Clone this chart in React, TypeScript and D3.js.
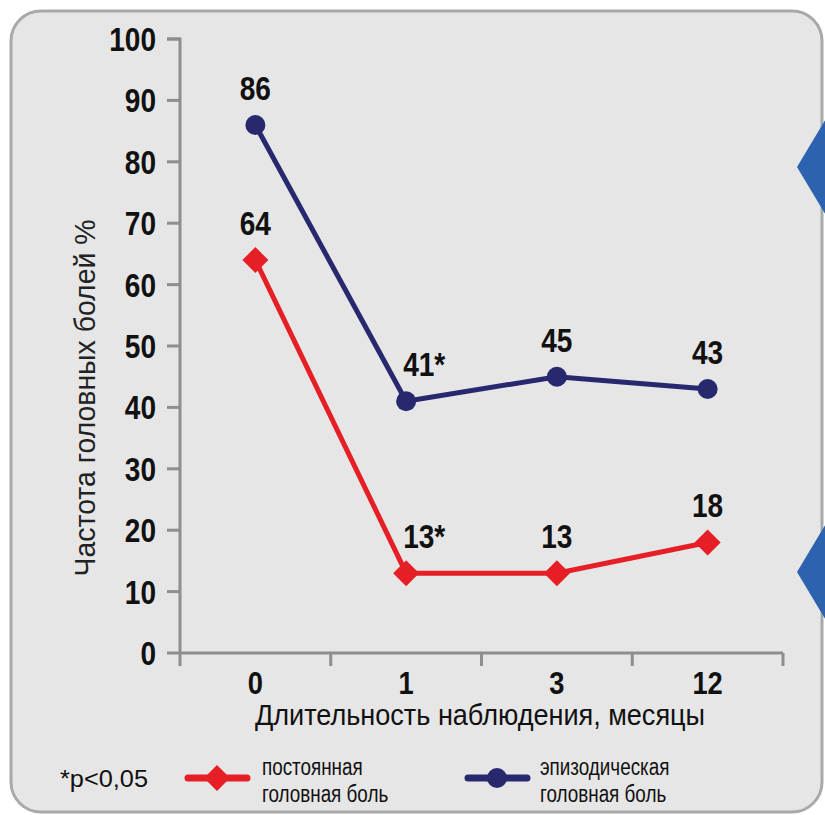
import React from "react";
import * as d3 from "d3";

const categories = ["0", "1", "3", "12"];
const episodic = [86, 41, 45, 43];
const constant = [64, 13, 13, 18];
const significant = [false, true, false, false];
const yTicks = [0, 10, 20, 30, 40, 50, 60, 70, 80, 90, 100];

const xTitle = "Длительность наблюдения, месяцы";
const yTitle = "Частота головных болей %";
const note = "*p<0,05";
const legendConstant = ["постоянная", "головная боль"];
const legendEpisodic = ["эпизодическая", "головная боль"];

const FONT = "'Liberation Sans', Arial, sans-serif";
const RED = "#e61f27";
const BLUE = "#27286e";
const AXIS = "#8e8e8e";

type TProps = {
  x: number;
  y: number;
  sx?: number;
  anchor?: "start" | "middle" | "end";
  size: number;
  bold?: boolean;
  fill?: string;
  children: React.ReactNode;
};

function T({ x, y, sx = 0.9, anchor = "start", size, bold, fill = "#111", children }: TProps) {
  return (
    <text
      transform={`translate(${x},${y}) scale(${sx},1)`}
      textAnchor={anchor}
      fontFamily={FONT}
      fontWeight={bold ? "bold" : "normal"}
      fontSize={size}
      fill={fill}
    >
      {children}
    </text>
  );
}

export default function App() {
  const W = 825;
  const H = 815;
  const x = d3.scaleBand<string>().domain(categories).range([180, 783]);
  const y = d3.scaleLinear().domain([0, 100]).range([653, 39]);
  const cx = (c: string) => (x(c) as number) + x.bandwidth() / 2;

  const line = d3
    .line<number>()
    .x((_, i) => cx(categories[i]))
    .y((d) => y(d));

  const diamond = (px: number, py: number, r: number) =>
    `M${px},${py - r} L${px + r},${py} L${px},${py + r} L${px - r},${py} Z`;

  const boundaries = [...categories.map((c) => x(c) as number), 783];

  const label = (v: number, i: number, key: string) => {
    const star = significant[i];
    const px = cx(categories[i]);
    return (
      <T key={key} x={star ? px - 3 : px} y={y(v) - 25} anchor={star ? "start" : "middle"} size={33} bold sx={0.85}>
        {v}
        {star ? "*" : ""}
      </T>
    );
  };

  return (
    <svg
      width={W}
      height={H}
      viewBox={`0 0 ${W} ${H}`}
      style={{ position: "absolute", left: 0, top: 0, background: "#fff" }}
    >
      <rect x={11} y={11} width={811} height={801} rx={30} ry={30} fill="#e6e6e6" stroke="#a9a9a9" strokeWidth={3} />

      {/* decorative blue diamonds at right edge */}
      <path d="M797,167 L857,67 L917,167 L857,267 Z" fill="#2d62ae" />
      <path d="M797,572 L857,472 L917,572 L857,672 Z" fill="#2d62ae" />

      {/* axes */}
      <g stroke={AXIS} strokeWidth={3} fill="none">
        <path d={`M167,${y(100)} H180 V${y(0)} H783`} />
        {yTicks.map((t) => (
          <line key={t} x1={167} x2={180} y1={y(t)} y2={y(t)} />
        ))}
        {boundaries.map((b, i) => (
          <line key={i} x1={b} x2={b} y1={y(0)} y2={y(0) + 13} />
        ))}
      </g>

      {yTicks.map((t) => (
        <T key={t} x={156} y={y(t) + 12} anchor="end" size={33} bold sx={0.85}>
          {t}
        </T>
      ))}

      {categories.map((c) => (
        <T key={c} x={cx(c)} y={694} anchor="middle" size={31} bold sx={0.88}>
          {c}
        </T>
      ))}

      <text
        x={480}
        y={725}
        textAnchor="middle"
        fontFamily={FONT}
        fontSize={30}
        fill="#111"
        textLength={450}
        lengthAdjust="spacingAndGlyphs"
      >
        {xTitle}
      </text>

      <text
        transform={`translate(95,398) rotate(-90)`}
        textAnchor="middle"
        fontFamily={FONT}
        fontSize={30}
        fill="#222"
        textLength={357}
        lengthAdjust="spacingAndGlyphs"
      >
        {yTitle}
      </text>

      {/* series lines */}
      <path d={line(episodic) as string} fill="none" stroke={BLUE} strokeWidth={5} />
      <path d={line(constant) as string} fill="none" stroke={RED} strokeWidth={5} />

      {episodic.map((v, i) => (
        <circle key={"e" + i} cx={cx(categories[i])} cy={y(v)} r={10} fill={BLUE} />
      ))}
      {constant.map((v, i) => (
        <path key={"c" + i} d={diamond(cx(categories[i]), y(v), 13)} fill={RED} />
      ))}

      {episodic.map((v, i) => label(v, i, "le" + i))}
      {constant.map((v, i) => label(v, i, "lc" + i))}

      {/* legend */}
      <text x={60} y={787} fontFamily={FONT} fontSize={24} fill="#111" textLength={88} lengthAdjust="spacingAndGlyphs">
        {note}
      </text>

      <line x1={188} x2={247} y1={778} y2={778} stroke={RED} strokeWidth={7} strokeLinecap="round" />
      <path d={diamond(217, 778, 13)} fill={RED} />
      <T x={262} y={775} size={23} sx={0.82}>
        {legendConstant[0]}
      </T>
      <T x={262} y={802} size={23} sx={0.82}>
        {legendConstant[1]}
      </T>

      <line x1={468} x2={527} y1={778} y2={778} stroke={BLUE} strokeWidth={7} strokeLinecap="round" />
      <circle cx={497} cy={778} r={10} fill={BLUE} />
      <T x={540} y={775} size={23} sx={0.82}>
        {legendEpisodic[0]}
      </T>
      <T x={540} y={802} size={23} sx={0.82}>
        {legendEpisodic[1]}
      </T>
    </svg>
  );
}
